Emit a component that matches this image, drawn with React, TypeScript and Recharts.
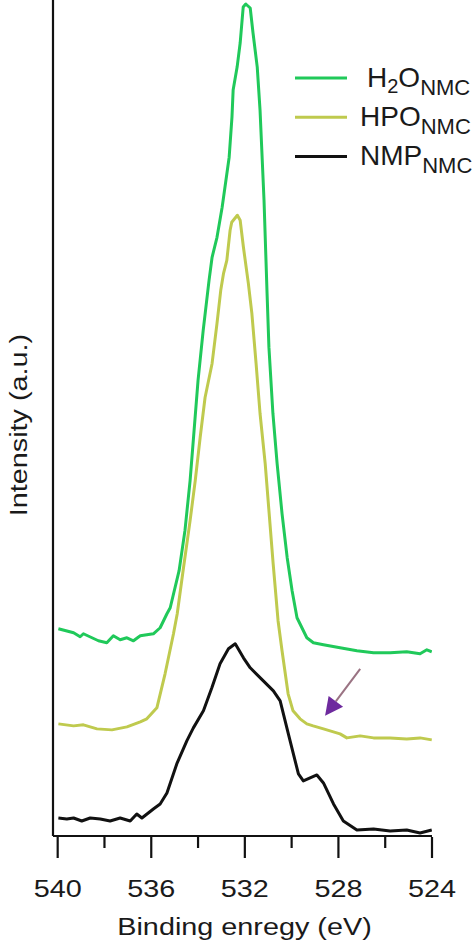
import { Legend, Line, LineChart, ReferenceLine, XAxis, YAxis } from "recharts";

const FONT = '"Liberation Sans", Arial, sans-serif';
const AXIS = "#111111";
const TEXT = "#1a1a1a";

const energyTicks = [540, 538, 536, 534, 532, 530, 528, 526, 524];
const majorTicks = [540, 536, 532, 528, 524];

const h2oEnergy = [539.97, 539.32, 539.04, 538.9, 538.26, 537.9, 537.62, 537.33, 537.04, 536.76, 536.47, 535.91, 535.62, 535.33, 535.19, 534.81, 534.56, 534.34, 534.17, 534.0, 533.78, 533.53, 533.4, 533.19, 532.97, 532.67, 532.55, 532.5, 532.33, 532.2, 532.07, 531.96, 531.77, 531.65, 531.47, 531.35, 531.18, 531.05, 530.97, 530.8, 530.62, 530.41, 530.19, 529.98, 529.77, 529.35, 529.07, 528.64, 527.93, 527.21, 526.5, 525.79, 525.08, 524.51, 524.22, 524.01];
const h2oIntensity = [207, 203, 199, 202, 195, 193, 200, 196, 198, 195, 200, 202, 208, 222, 228, 265, 305, 355, 405, 455, 505, 555, 578, 598, 628, 678, 718, 745, 768, 792, 828, 831, 827, 802, 768, 725, 635, 542, 488, 422, 372, 322, 278, 245, 218, 198, 193, 191, 188, 185, 183, 183, 184, 182, 186, 184];

const hpoEnergy = [539.97, 539.32, 538.9, 538.32, 537.68, 537.04, 536.47, 536.19, 535.76, 535.41, 535.05, 534.89, 534.64, 534.34, 534.12, 533.91, 533.7, 533.4, 533.19, 533.03, 532.91, 532.77, 532.63, 532.56, 532.32, 532.2, 532.06, 531.85, 531.7, 531.52, 531.35, 531.13, 530.96, 530.79, 530.58, 530.41, 530.15, 529.94, 529.64, 529.35, 529.08, 528.64, 527.93, 527.64, 527.07, 526.5, 525.79, 525.08, 524.51, 524.01];
const hpoIntensity = [112, 110, 111, 107, 106, 109, 114, 117, 128, 162, 202, 222, 265, 315, 355, 398, 438, 472, 512, 545, 562, 575, 605, 613, 620, 615, 588, 552, 522, 472, 422, 372, 322, 272, 215, 185, 142, 125, 117, 112, 110, 107, 102, 98, 100, 98, 98, 97, 98, 96];

const nmpEnergy = [539.97, 539.61, 539.32, 538.97, 538.61, 538.18, 537.76, 537.33, 536.9, 536.62, 536.4, 535.91, 535.62, 535.33, 534.91, 534.48, 534.2, 533.77, 533.41, 533.06, 532.7, 532.41, 532.06, 531.77, 531.21, 530.78, 530.49, 530.14, 529.71, 529.5, 528.92, 528.64, 528.21, 527.79, 527.21, 526.5, 525.79, 525.08, 524.51, 524.01];
const nmpIntensity = [18, 17, 18, 15, 18, 17, 15, 18, 15, 22, 18, 27, 32, 43, 72, 95, 108, 125, 148, 172, 187, 192, 178, 168, 155, 145, 135, 102, 62, 55, 61, 53, 32, 15, 6, 7, 5, 6, 3, 6];

// arrow pointing at the shoulder of the HPO curve (tail, tip)
const arrowEnergy = [527.07, 528.57];
const arrowIntensity = [167, 120];

const zip = (es: number[], vs: number[]) => es.map((e, i) => ({ e, v: vs[i] }));

const series = [
  { key: "h2o", data: zip(h2oEnergy, h2oIntensity), color: "#20c95a", parts: [["H"], ["2", "sub2"], ["O"], ["NMC", "sub"]], dx: 7 },
  { key: "hpo", data: zip(hpoEnergy, hpoIntensity), color: "#bfca4e", parts: [["HPO"], ["NMC", "sub"]], dx: 0 },
  { key: "nmp", data: zip(nmpEnergy, nmpIntensity), color: "#111111", parts: [["NMP"], ["NMC", "sub"]], dx: 0 },
];

function EnergyTick({ x, y, payload }: any) {
  const major = majorTicks.includes(payload.value);
  return (
    <g>
      <line x1={x} y1={y + 1} x2={x} y2={y + (major ? 22 : 12)} stroke={AXIS} strokeWidth={2.2} />
      {major && (
        <text transform={`translate(${x},${y + 61}) scale(1.2,1)`} textAnchor="middle" fontSize={24} fontFamily={FONT} fill={TEXT}>
          {payload.value}
        </text>
      )}
    </g>
  );
}

function renderXLabel({ viewBox }: any) {
  const vb = viewBox || { x: 53, y: 836, width: 379 };
  return (
    <text transform={`translate(${vb.x + vb.width / 2 + 2},${vb.y + 99}) scale(1.2,1)`} textAnchor="middle" fontSize={24} fontFamily={FONT} fill={TEXT}>
      Binding enregy (eV)
    </text>
  );
}

function renderYLabel({ viewBox }: any) {
  const vb = viewBox || { x: 0, y: 0, width: 53, height: 836 };
  return (
    <text transform={`translate(${vb.x + 27},${vb.y + vb.height / 2 + 7}) rotate(-90) scale(1.2,1)`} textAnchor="middle" fontSize={24} fontFamily={FONT} fill={TEXT}>
      Intensity (a.u.)
    </text>
  );
}

function renderLegend() {
  return (
    <svg width={473} height={180} style={{ display: "block" }}>
      {series.map((s, i) => {
        const cy = 78 + i * 39.2;
        let shift = 0;
        return (
          <g key={s.key}>
            <line x1={295} x2={347} y1={cy} y2={cy} stroke={s.color} strokeWidth={3} />
            <text x={360 + s.dx} y={cy + 9} fontSize={28} fontFamily={FONT} fill={TEXT}>
              {s.parts.map(([t, kind], j) => {
                const target = kind === "sub" ? 8 : kind === "sub2" ? 6 : 0;
                const dy = target - shift;
                shift = target;
                const size = kind === "sub" ? 22 : kind === "sub2" ? 20 : 28;
                return (
                  <tspan key={j} dy={dy} fontSize={size}>
                    {t}
                  </tspan>
                );
              })}
            </text>
          </g>
        );
      })}
    </svg>
  );
}

function Arrow(props: any) {
  const { x1, y1, x2, y2 } = props;
  if (x1 == null || x2 == null) return null;
  const dx = x2 - x1;
  const dy = y2 - y1;
  const len = Math.hypot(dx, dy);
  const ux = dx / len;
  const uy = dy / len;
  const head = 18;
  const half = 9;
  const bx = x2 - ux * head;
  const by = y2 - uy * head;
  const pts = `${x2},${y2} ${bx - uy * half},${by + ux * half} ${bx + uy * half},${by - ux * half}`;
  return (
    <g>
      <line x1={x1} y1={y1} x2={bx} y2={by} stroke="#9a7383" strokeWidth={2} />
      <polygon points={pts} fill="#6e2a9e" />
    </g>
  );
}

export default function App() {
  return (
    <div style={{ position: "absolute", left: 0, top: 0, width: 473, height: 943, background: "#fff" }}>
      <LineChart width={473} height={943} margin={{ top: 0, right: 41, bottom: 0, left: 0 }}>
        <XAxis
          dataKey="e"
          type="number"
          domain={[524, 540.2]}
          reversed
          ticks={energyTicks}
          interval={0}
          tickSize={0}
          tickMargin={0}
          tickLine={false}
          tick={<EnergyTick />}
          height={107}
          axisLine={{ stroke: AXIS, strokeWidth: 2.2 }}
          allowDataOverflow
          label={{ value: "Binding enregy (eV)", content: renderXLabel }}
        />
        <YAxis
          type="number"
          domain={[0, 835]}
          width={53}
          tick={false}
          tickLine={false}
          axisLine={{ stroke: AXIS, strokeWidth: 2.2 }}
          allowDataOverflow
          label={{ value: "Intensity (a.u.)", content: renderYLabel }}
        />
        <Legend layout="vertical" align="center" verticalAlign="middle" content={renderLegend} wrapperStyle={{ left: 0, top: 0, width: 473, height: 180 }} />
        {series.map((s) => (
          <Line key={s.key} data={s.data} dataKey="v" name={s.key} type="linear" stroke={s.color} strokeWidth={3} strokeLinejoin="round" dot={false} activeDot={false} isAnimationActive={false} />
        ))}
        <ReferenceLine
          segment={[
            { x: arrowEnergy[0], y: arrowIntensity[0] },
            { x: arrowEnergy[1], y: arrowIntensity[1] },
          ]}
          ifOverflow="visible"
          shape={Arrow}
        />
      </LineChart>
    </div>
  );
}
